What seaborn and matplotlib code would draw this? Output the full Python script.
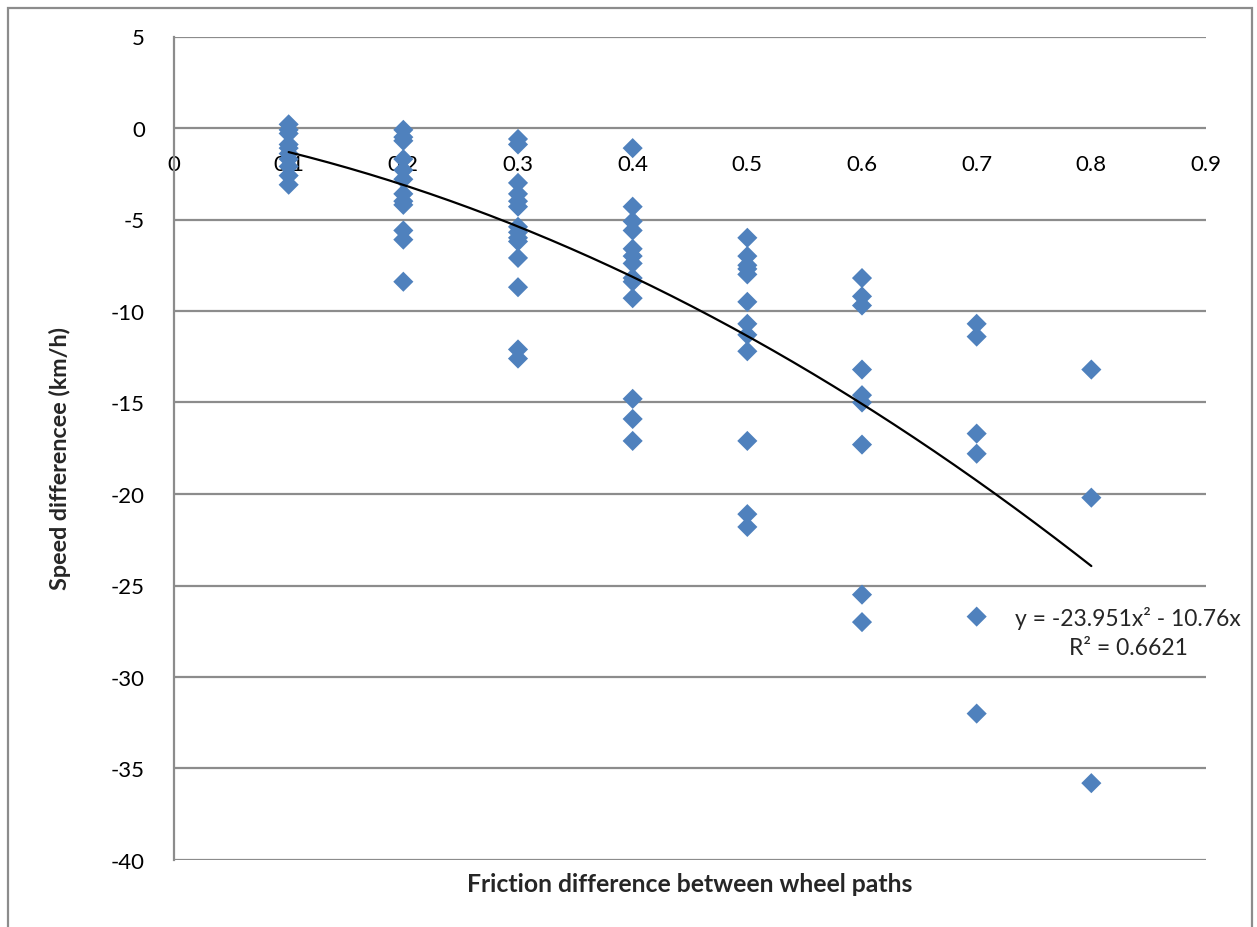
import numpy as np
import pandas as pd
import matplotlib
matplotlib.use("Agg")
import matplotlib.pyplot as plt
import seaborn as sns
from matplotlib.patches import Rectangle

# ---- data ----
friction_01 = [0.2, -0.1, -0.3, -0.9, -1.1, -1.4, -1.7, -2.1, -2.6, -3.1]
friction_02 = [-0.1, -0.5, -0.7, -1.7, -2.3, -2.8, -3.6, -4.0, -4.2, -5.6, -6.1, -8.4]
friction_03 = [-0.6, -0.9, -3.0, -3.6, -4.0, -4.3, -5.4, -5.7, -6.0, -6.2, -7.1, -8.7, -12.1, -12.6]
friction_04 = [-1.1, -4.3, -5.1, -5.6, -6.6, -7.0, -7.4, -8.2, -8.4, -9.3, -14.8, -15.9, -17.1]
friction_05 = [-6.0, -7.0, -7.5, -7.7, -8.0, -9.5, -10.7, -11.3, -12.2, -17.1, -21.1, -21.8]
friction_06 = [-8.2, -9.2, -9.7, -13.2, -14.6, -15.0, -17.3, -25.5, -27.0]
friction_07 = [-10.7, -11.4, -16.7, -17.8, -26.7, -32.0]
friction_08 = [-13.2, -20.2, -35.8]
friction_levels = [0.1, 0.2, 0.3, 0.4, 0.5, 0.6, 0.7, 0.8]

trend_a = -23.951   # x^2 coefficient
trend_b = -10.76    # x coefficient
trend_label = "y = -23.951x\u00b2 - 10.76x\nR\u00b2 = 0.6621"

x_ticks = [0, 0.1, 0.2, 0.3, 0.4, 0.5, 0.6, 0.7, 0.8, 0.9]
x_tick_labels = ["0", "0.1", "0.2", "0.3", "0.4", "0.5", "0.6", "0.7", "0.8", "0.9"]
y_ticks = [5, 0, -5, -10, -15, -20, -25, -30, -35, -40]
y_tick_labels = ["5", "0", "-5", "-10", "-15", "-20", "-25", "-30", "-35", "-40"]

columns = [friction_01, friction_02, friction_03, friction_04,
           friction_05, friction_06, friction_07, friction_08]
rows = []
for lvl, vals in zip(friction_levels, columns):
    for v in vals:
        rows.append((lvl, v))
df = pd.DataFrame(rows, columns=["friction", "speed"])

trend_x = np.linspace(friction_levels[0], friction_levels[-1], 200)
trend_df = pd.DataFrame({"friction": trend_x,
                         "speed": trend_a * trend_x ** 2 + trend_b * trend_x})

# ---- figure ----
sns.set_theme(style="white")
plt.rcParams["font.family"] = ["Lato", "DejaVu Sans"]

fig = plt.figure(figsize=(12.57, 9.28), dpi=100)
L, R, T, B = 174, 1206, 37.5, 861
ax = fig.add_axes([L / 1257, 1 - B / 928, (R - L) / 1257, (B - T) / 928])

grid_col = "#8c8c8c"
for yt in y_ticks:
    ax.axhline(yt, color=grid_col, lw=1.6, zorder=0)

sns.scatterplot(data=df, x="friction", y="speed", marker="D", s=105,
                color="#4F81BD", edgecolor="none", linewidth=0, ax=ax, zorder=3)
sns.lineplot(data=trend_df, x="friction", y="speed", color="black", lw=1.6,
             ax=ax, zorder=4)

for s in ["top", "right", "bottom"]:
    ax.spines[s].set_visible(False)
ax.spines["left"].set_color(grid_col)
ax.spines["left"].set_linewidth(1.6)
ax.spines["bottom"].set_position(("data", 0))

ax.set_xlim(0, 0.9)
ax.set_ylim(-40, 5)
ax.set_xticks(x_ticks)
ax.set_xticklabels(x_tick_labels)
ax.set_yticks(y_ticks)
ax.set_yticklabels(y_tick_labels)
ax.tick_params(axis="x", length=0, pad=19, colors="black", labelsize=16)
ax.tick_params(axis="y", length=0, pad=21, colors="black", labelsize=16)

ax.set_xlabel("")
ax.set_ylabel("")
fig.text(690 / 1257, 1 - 885 / 928, "Friction difference between wheel paths",
         ha="center", va="center", fontsize=17.8, fontweight="bold")
fig.text(60 / 1257, 1 - 458 / 928, "Speed differencee (km/h)",
         ha="center", va="center", rotation=90, fontsize=16.8, fontweight="bold")

fig.text(1128 / 1257, 1 - 633 / 928, trend_label, ha="center", va="center",
         fontsize=16.5, linespacing=1.45)

# outer chart border
fig.patches.append(Rectangle((8 / 1257, -0.05), (1252 - 8) / 1257, 1.05 - 9 / 928,
                             transform=fig.transFigure, fill=False,
                             edgecolor="#8c8c8c", lw=1.6))

fig.savefig("out.png", dpi=100, facecolor="white")
